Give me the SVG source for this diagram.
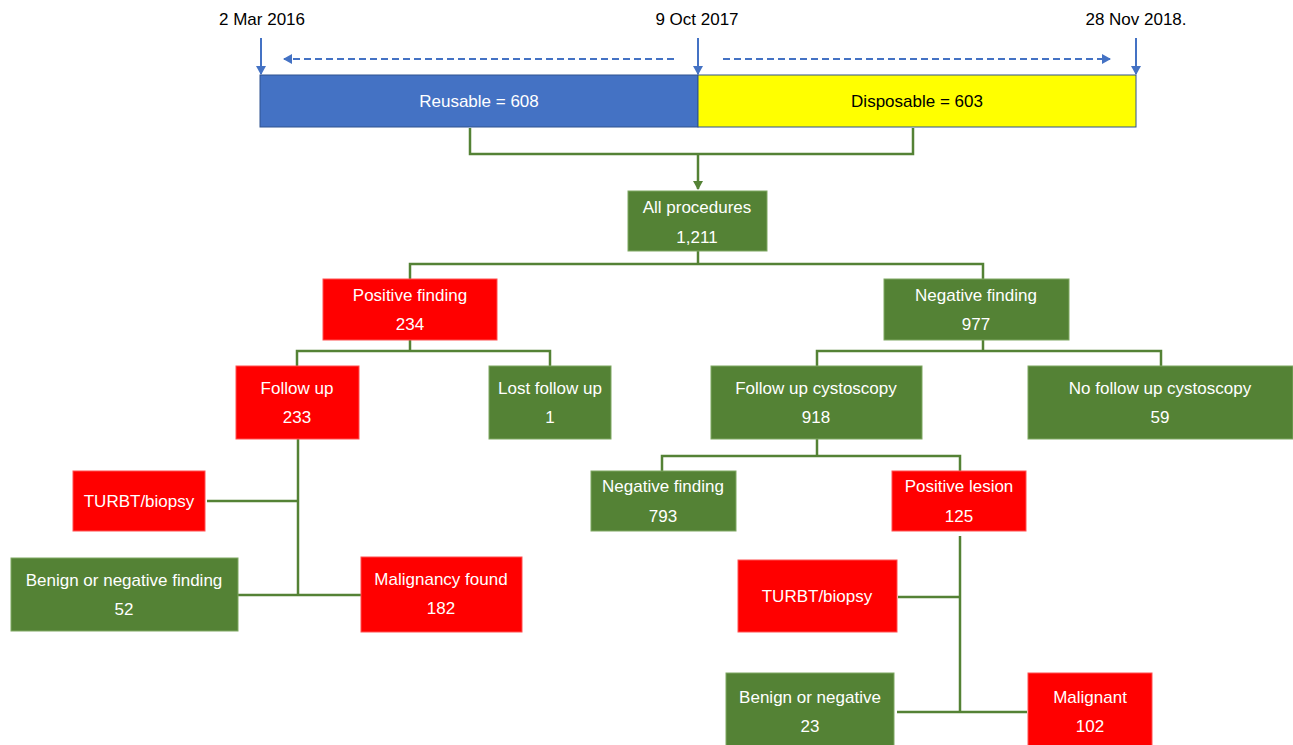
<svg xmlns="http://www.w3.org/2000/svg" width="1293" height="745" viewBox="0 0 1293 745">
<defs>
<style>
text{font-family:"Liberation Sans",Arial,sans-serif;font-size:17px;text-anchor:middle;fill:#fff}
.dk{fill:#000}
.g{fill:#548235;stroke:#7fa862;stroke-width:1}
.r{fill:#ff0000;stroke:#ff5050;stroke-width:1}
.c{fill:none;stroke:#548235;stroke-width:2.5}
.b{fill:none;stroke:#4472c4;stroke-width:2}
.bd{fill:none;stroke:#4472c4;stroke-width:2;stroke-dasharray:7 4}
</style>
<marker id="ab" markerWidth="10" markerHeight="10" refX="8" refY="5" orient="auto" markerUnits="userSpaceOnUse"><path d="M0,0 L9,5 L0,10 z" fill="#4472c4"/></marker>
<marker id="ag" markerWidth="10" markerHeight="10" refX="8" refY="5" orient="auto" markerUnits="userSpaceOnUse"><path d="M0,0 L9,5 L0,10 z" fill="#548235"/></marker>
</defs>
<g id="timeline">
<text class="dk" x="262" y="25">2 Mar 2016</text>
<text class="dk" x="697" y="25">9 Oct 2017</text>
<text class="dk" x="1136" y="25">28 Nov 2018.</text>
<line class="b" x1="261" y1="38" x2="261" y2="74" marker-end="url(#ab)"/>
<line class="b" x1="698" y1="38" x2="698" y2="74" marker-end="url(#ab)"/>
<line class="b" x1="1136" y1="38" x2="1136" y2="74" marker-end="url(#ab)"/>
<line class="bd" x1="674" y1="59" x2="284" y2="59" marker-end="url(#ab)"/>
<line class="bd" x1="723" y1="59" x2="1110" y2="59" marker-end="url(#ab)"/>
</g>
<g id="reusable"><rect x="260" y="75" width="438" height="52" fill="#4472c4" stroke="#2f528f" stroke-width="1"/><text x="479" y="107">Reusable = 608</text></g>
<g id="disposable"><rect x="698" y="75" width="438" height="52" fill="#ffff00" stroke="#2f528f" stroke-width="1"/><text class="dk" x="917" y="107">Disposable = 603</text></g>
<g id="connectors">
<polyline class="c" points="470,128 470,154 913,154 913,128"/>
<line class="c" x1="698" y1="154" x2="698" y2="189" marker-end="url(#ag)"/>
<polyline class="c" points="698,251 698,264"/>
<polyline class="c" points="410,279 410,264 983,264 983,279"/>
<polyline class="c" points="410,340 410,351"/>
<polyline class="c" points="297,366 297,351 550,351 550,366"/>
<polyline class="c" points="983,340 983,351"/>
<polyline class="c" points="817,366 817,351 1161,351 1161,366"/>
<polyline class="c" points="817,439 817,456"/>
<polyline class="c" points="662,471 662,456 960,456 960,471"/>
<line class="c" x1="298" y1="439" x2="298" y2="595"/>
<line class="c" x1="207" y1="501" x2="298" y2="501"/>
<line class="c" x1="237" y1="595" x2="361" y2="595"/>
<line class="c" x1="960" y1="536" x2="960" y2="712"/>
<line class="c" x1="898" y1="597" x2="960" y2="597"/>
<line class="c" x1="897" y1="712" x2="1027" y2="712"/>
</g>
<g id="all"><rect class="g" x="628" y="191" width="139" height="60"/><text x="697" y="213">All procedures</text><text x="697" y="243">1,211</text></g>
<g id="posfind"><rect class="r" x="323" y="279" width="174" height="61"/><text x="410" y="301">Positive finding</text><text x="410" y="330">234</text></g>
<g id="negfind"><rect class="g" x="884" y="279" width="185" height="61"/><text x="976" y="301">Negative finding</text><text x="976" y="330">977</text></g>
<g id="followup"><rect class="r" x="236" y="366" width="123" height="73"/><text x="297" y="394">Follow up</text><text x="297" y="423">233</text></g>
<g id="lost"><rect class="g" x="489" y="366" width="122" height="73"/><text x="550" y="394">Lost follow up</text><text x="550" y="423">1</text></g>
<g id="fucysto"><rect class="g" x="711" y="366" width="211" height="73"/><text x="816" y="394">Follow up cystoscopy</text><text x="816" y="423">918</text></g>
<g id="nofu"><rect class="g" x="1028" y="366" width="265" height="73"/><text x="1160" y="394">No follow up cystoscopy</text><text x="1160" y="423">59</text></g>
<g id="neg793"><rect class="g" x="591" y="471" width="145" height="60"/><text x="663" y="492">Negative finding</text><text x="663" y="522">793</text></g>
<g id="poslesion"><rect class="r" x="892" y="471" width="134" height="60"/><text x="959" y="492">Positive lesion</text><text x="959" y="522">125</text></g>
<g id="turbt1"><rect class="r" x="73" y="471" width="132" height="60"/><text x="139" y="507">TURBT/biopsy</text></g>
<g id="benign52"><rect class="g" x="11" y="558" width="227" height="73"/><text x="124" y="586">Benign or negative finding</text><text x="124" y="615">52</text></g>
<g id="malig182"><rect class="r" x="361" y="557" width="161" height="75" stroke="#548235"/><text x="441" y="585">Malignancy found</text><text x="441" y="614">182</text></g>
<g id="turbt2"><rect class="r" x="738" y="560" width="159" height="72"/><text x="817" y="602">TURBT/biopsy</text></g>
<g id="benign23"><rect class="g" x="726" y="673" width="168" height="73"/><text x="810" y="703">Benign or negative</text><text x="810" y="732">23</text></g>
<g id="malig102"><rect class="r" x="1028" y="673" width="124" height="73"/><text x="1090" y="703">Malignant</text><text x="1090" y="732">102</text></g>
</svg>
